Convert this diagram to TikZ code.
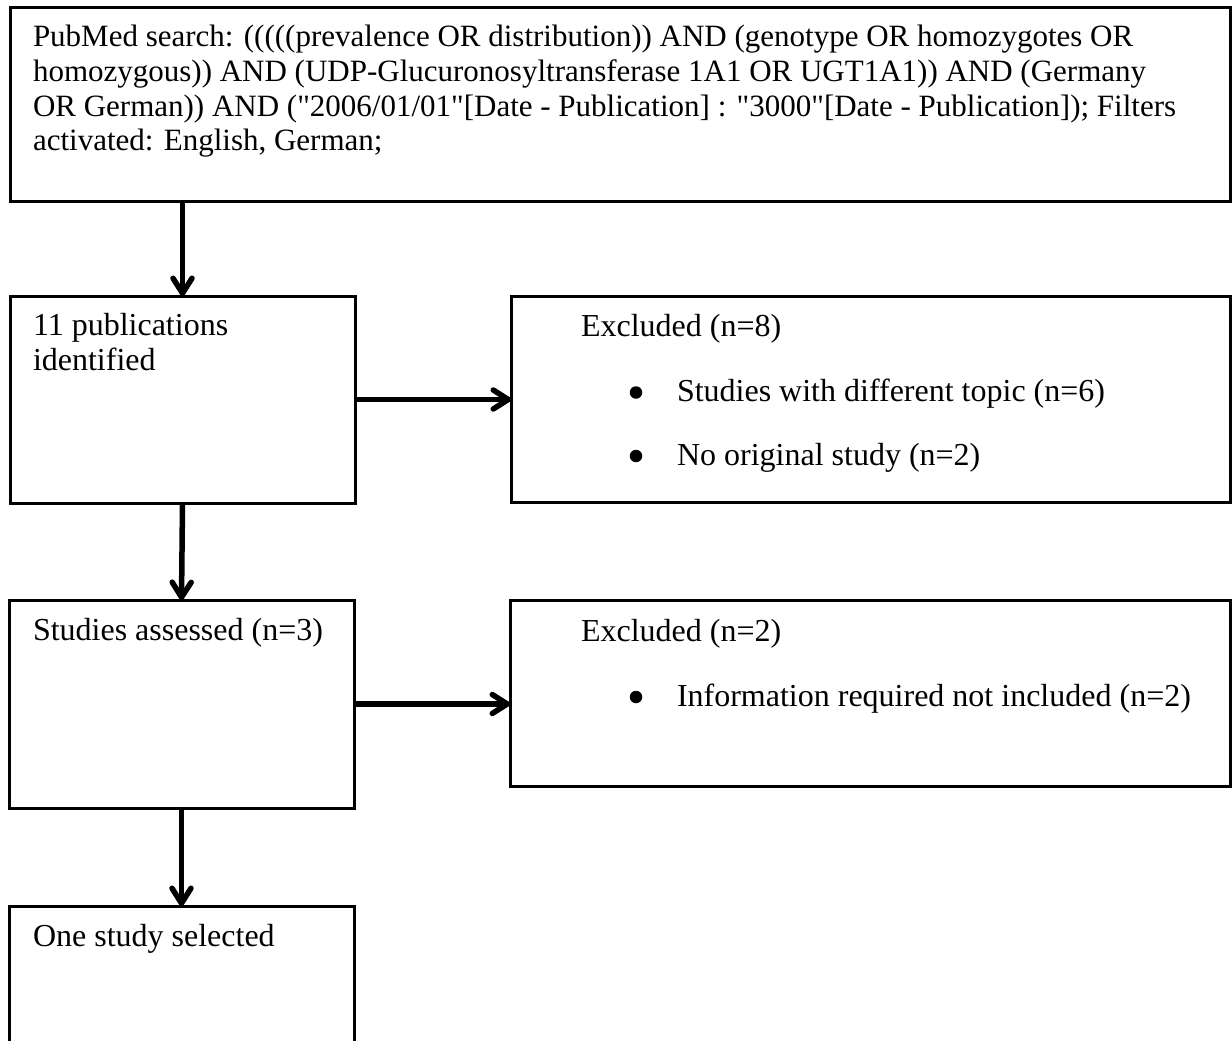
\documentclass[tikz,border=0pt]{standalone}
\usepackage{fontspec}
\setmainfont[Ligatures=TeXOff]{Liberation Serif}
\usetikzlibrary{arrows.meta}
\tikzset{
  box/.style={draw=black, line width=3pt, rectangle, anchor=north west, inner sep=0pt, outer sep=0pt},
  arr/.style={line width=5.5pt, -{Straight Barb[length=15pt,width=19pt,round]}},
  txt/.style={anchor=base west, inner sep=0pt, outer sep=0pt, font=\fontsize{32}{34.5}\selectfont},
  toptxt/.style={txt, font=\fontsize{31}{34.5}\selectfont},
  dot/.style={circle, fill=black, draw=none, minimum size=12.5pt, inner sep=0pt},
}
\begin{document}
\begin{tikzpicture}[x=1pt,y=-1pt]
\clip (0,0) rectangle (1232,1041);
\fill[white] (0,0) rectangle (1232,1041);
% boxes
\node[box, minimum width=1220pt, minimum height=193pt] (b0) at (10,8) {};
\node[box, minimum width=345pt, minimum height=207pt] (b1) at (10,296) {};
\node[box, minimum width=719pt, minimum height=206pt] (b2) at (511,296) {};
\node[box, minimum width=345pt, minimum height=208pt] (b3) at (9,600) {};
\node[box, minimum width=720pt, minimum height=186pt] (b4) at (510,600) {};
\node[box, minimum width=345pt, minimum height=200pt] (b5) at (9,906) {};
% texts
\node[toptxt] (t0a) at (33,47) {PubMed search: (((((prevalence OR distribution)) AND (genotype OR homozygotes OR};
\node[toptxt] (t0b) at (33,81.5) {homozygous)) AND (UDP-Glucuronosyltransferase 1A1 OR UGT1A1)) AND (Germany};
\node[toptxt] (t0c) at (33,116) {OR German)) AND ("2006/01/01"[Date - Publication] : "3000"[Date - Publication]); Filters};
\node[toptxt] (t0d) at (33,150.5) {activated: English, German;};
\node[txt] (t1a) at (33,335) {11 publications};
\node[txt] (t1b) at (33,370) {identified};
\node[txt] (t2a) at (581,336) {Excluded (n=8)};
\node[dot] (d2b) at (636,392.5) {};
\node[txt] (t2c) at (677,401) {Studies with different topic (n=6)};
\node[dot] (d2d) at (636,456) {};
\node[txt] (t2e) at (677,465) {No original study (n=2)};
\node[txt] (t3a) at (33,640) {Studies assessed (n=3)};
\node[txt] (t4a) at (581,641) {Excluded (n=2)};
\node[dot] (d4b) at (636,697) {};
\node[txt] (t4c) at (677,706) {Information required not included (n=2)};
\node[txt] (t5a) at (33,946) {One study selected};
% connectors
\draw[arr] (b0.south -| b1.north) -- (b1.north);
\draw[arr] (b1.east) -- (b1.east -| b2.west);
\draw[arr] (b1.south) -- (b3.north);
\draw[arr] (b3.east) -- (b3.east -| b4.west);
\draw[arr] (b3.south) -- (b5.north);
\end{tikzpicture}
\end{document}
